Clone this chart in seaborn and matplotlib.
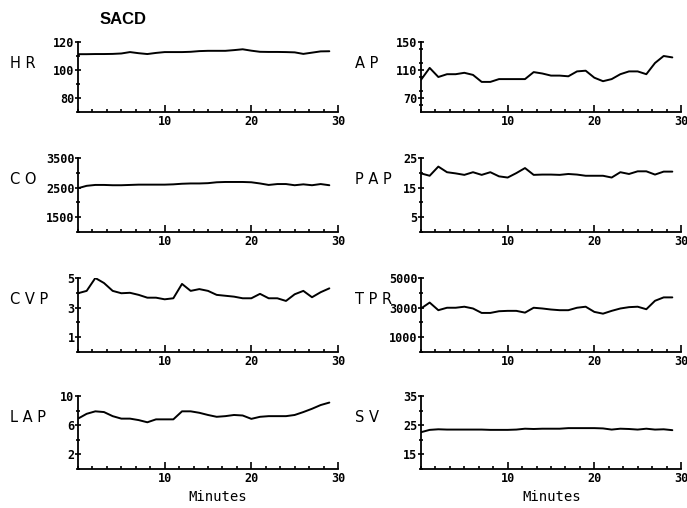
import numpy as np
import pandas as pd
import seaborn as sns
import matplotlib.pyplot as plt
from matplotlib.ticker import MultipleLocator

# minutes 0..29
minutes = list(range(30))

hr = [111.3, 111.3, 111.4, 111.4, 111.5, 111.8, 112.8, 112.0, 111.4, 112.2,
      112.8, 112.8, 112.8, 113.0, 113.5, 113.7, 113.7, 113.7, 114.2, 114.8,
      113.8, 113.0, 112.9, 112.9, 112.8, 112.6, 111.5, 112.4, 113.3, 113.4]
ap = [96, 113, 100, 104, 104, 106, 103, 93, 93, 97,
      97, 97, 97, 107, 105, 102, 102, 101, 108, 109,
      99, 94, 97, 104, 108, 108, 104, 120, 130, 128]
co = [2480, 2560, 2590, 2590, 2580, 2580, 2590, 2600, 2600, 2600,
      2600, 2610, 2630, 2640, 2640, 2650, 2680, 2690, 2690, 2690,
      2680, 2640, 2590, 2620, 2620, 2580, 2610, 2580, 2620, 2580]
pap = [19.8, 19.0, 22.1, 20.2, 19.8, 19.3, 20.2, 19.3, 20.2, 18.8,
       18.4, 19.9, 21.6, 19.3, 19.4, 19.4, 19.3, 19.6, 19.4, 19.0,
       19.0, 19.0, 18.4, 20.2, 19.6, 20.5, 20.5, 19.4, 20.4, 20.4]
cvp = [3.97, 4.13, 5.0, 4.66, 4.13, 3.97, 4.0, 3.86, 3.67, 3.67,
       3.56, 3.63, 4.6, 4.13, 4.25, 4.13, 3.86, 3.8, 3.74, 3.63,
       3.63, 3.93, 3.63, 3.63, 3.45, 3.9, 4.13, 3.7, 4.04, 4.3]
tpr = [2940, 3340, 2825, 2990, 2990, 3060, 2940, 2640, 2640, 2755,
       2780, 2780, 2660, 2990, 2940, 2870, 2825, 2825, 2990, 3060,
       2710, 2590, 2780, 2940, 3030, 3060, 2890, 3460, 3690, 3690]
lap = [6.9, 7.56, 7.9, 7.8, 7.24, 6.9, 6.9, 6.7, 6.4, 6.8,
       6.8, 6.8, 7.9, 7.9, 7.7, 7.4, 7.15, 7.24, 7.4, 7.33,
       6.87, 7.15, 7.24, 7.24, 7.24, 7.4, 7.8, 8.25, 8.76, 9.1]
sv = [22.6, 23.4, 23.6, 23.5, 23.5, 23.5, 23.5, 23.5, 23.4, 23.4,
      23.4, 23.5, 23.8, 23.7, 23.8, 23.8, 23.8, 24.0, 24.0, 24.0,
      24.0, 23.9, 23.5, 23.8, 23.7, 23.5, 23.8, 23.5, 23.6, 23.3]

# (label, values, ylim, labelled ticks, minor step, column, row)
panels = [
    ('H R', hr, (70, 120), [80, 100, 120], 10, 0, 0),
    ('A P', ap, (50, 150), [70, 110, 150], 20, 1, 0),
    ('C O', co, (1000, 3500), [1500, 2500, 3500], 500, 0, 1),
    ('P A P', pap, (0, 25), [5, 15, 25], 5, 1, 1),
    ('C V P', cvp, (0, 5), [1, 3, 5], 1, 0, 2),
    ('T P R', tpr, (0, 5000), [1000, 3000, 5000], 1000, 1, 2),
    ('L A P', lap, (0, 10), [2, 6, 10], 2, 0, 3),
    ('S V', sv, (10, 35), [15, 25, 35], 5, 1, 3),
]

sns.set_style('white')
plt.rcParams['font.family'] = ['DejaVu Sans']
plt.rcParams['text.color'] = 'black'

W, H = 687, 508
fig = plt.figure(figsize=(W / 100, H / 100), dpi=100)

col_left = [78, 421]
row_top = [42, 158, 278, 396]
row_bot = [112, 232, 352, 469]
ax_w = 260

mono = {'family': 'DejaVu Sans Mono', 'weight': 'bold', 'size': 8.5}

for name, vals, ylim, yt, ystep, c, r in panels:
    ax = fig.add_axes([col_left[c] / W, 1 - row_bot[r] / H,
                       ax_w / W, (row_bot[r] - row_top[r]) / H])
    df = pd.DataFrame({'Minutes': minutes, 'value': vals})
    sns.lineplot(data=df, x='Minutes', y='value', ax=ax,
                 color='black', linewidth=1.4)
    ax.set_xlim(0, 30)
    ax.set_ylim(*ylim)
    ax.set_xlabel('')
    ax.set_ylabel('')
    ax.set_facecolor('white')
    for s in ['top', 'right']:
        ax.spines[s].set_visible(False)
    for s in ['left', 'bottom']:
        ax.spines[s].set_color('black')
        ax.spines[s].set_linewidth(1.3)
    ax.set_xticks([10, 20, 30])
    ax.set_xticklabels(['10', '20', '30'], fontdict=mono)
    ax.xaxis.set_minor_locator(MultipleLocator(10 / 6))
    ax.set_yticks(yt)
    ax.set_yticklabels([str(v) for v in yt], fontdict=mono)
    ax.yaxis.set_minor_locator(MultipleLocator(ystep))
    ax.tick_params(axis='x', which='major', direction='in', length=5,
                   width=1.2, pad=2, colors='black')
    ax.tick_params(axis='x', which='minor', direction='in', length=2.5,
                   width=1.2, colors='black')
    ax.tick_params(axis='y', which='major', direction='inout', length=4,
                   width=1.2, pad=0.5, colors='black')
    ax.tick_params(axis='y', which='minor', direction='inout', length=3,
                   width=1.2, colors='black')
    ax.tick_params(left=True, bottom=True, which='both')

    lx = 10 if c == 0 else 355
    ly = (row_top[r] + 21) if r > 0 else 63
    fig.text(lx / W, 1 - ly / H, name, ha='left', va='center',
             fontsize=10.5, color='black')

fig.text(100 / W, 1 - 19 / H, 'SACD', fontsize=12, fontweight='bold',
         ha='left', va='center', family='Liberation Sans', color='black')
fig.text(218 / W, 1 - 497 / H, 'Minutes', ha='center', va='center',
         family='DejaVu Sans Mono', fontsize=10, color='black')
fig.text(552 / W, 1 - 497 / H, 'Minutes', ha='center', va='center',
         family='DejaVu Sans Mono', fontsize=10, color='black')

fig.savefig('out.png', dpi=100, facecolor='white')
